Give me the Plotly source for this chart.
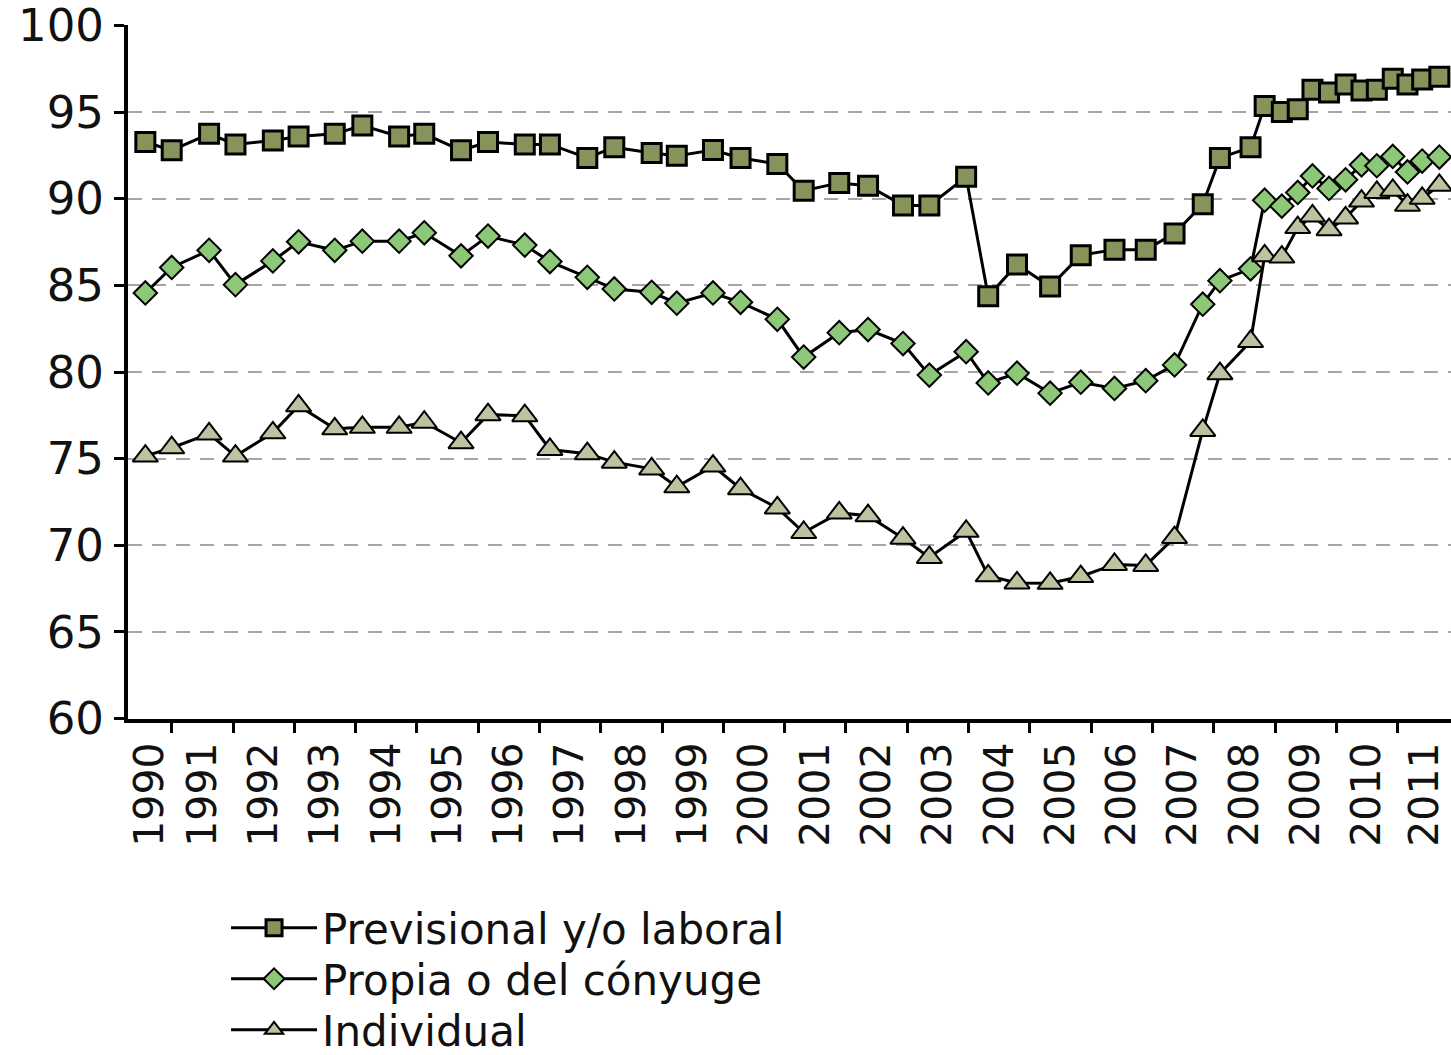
import plotly.graph_objects as go

# Survey periods (decimal years, as placed along the time axis)
periods = [1990.57, 1991.00, 1991.61, 1992.04, 1992.65, 1993.07, 1993.66, 1994.11,
           1994.71, 1995.12, 1995.72, 1996.16, 1996.76, 1997.17, 1997.78, 1998.22,
           1998.83, 1999.24, 1999.83, 2000.28, 2000.88, 2001.31, 2001.89, 2002.36,
           2002.93, 2003.36, 2003.96, 2004.32, 2004.79, 2005.33, 2005.83, 2006.38,
           2006.89, 2007.36, 2007.82, 2008.10, 2008.60, 2008.83, 2009.11, 2009.37,
           2009.61, 2009.88, 2010.15, 2010.41, 2010.66, 2010.92, 2011.16, 2011.40,
           2011.68]

previsional = [93.27, 92.79, 93.74, 93.13, 93.36, 93.59, 93.74, 94.22, 93.59, 93.74,
               92.79, 93.27, 93.13, 93.13, 92.35, 92.97, 92.63, 92.47, 92.81, 92.35,
               92.00, 90.46, 90.91, 90.75, 89.61, 89.61, 91.26, 84.37, 86.20, 84.93,
               86.74, 87.06, 87.06, 87.99, 89.68, 92.35, 92.96, 95.34, 95.00, 95.16,
               96.29, 96.13, 96.58, 96.24, 96.29, 96.92, 96.58, 96.88, 97.04]

propia = [84.56, 86.03, 87.02, 85.04, 86.41, 87.51, 87.02, 87.55, 87.55, 88.03,
          86.70, 87.84, 87.32, 86.37, 85.46, 84.79, 84.60, 83.97, 84.56, 84.02,
          83.04, 80.86, 82.27, 82.45, 81.64, 79.82, 81.17, 79.37, 79.93, 78.78,
          79.41, 79.05, 79.50, 80.41, 83.91, 85.27, 85.95, 89.91, 89.57, 90.36,
          91.31, 90.59, 91.09, 91.95, 91.90, 92.44, 91.54, 92.17, 92.40]

individual = [75.15, 75.63, 76.43, 75.15, 76.49, 78.05, 76.72, 76.81, 76.81, 77.10,
              75.92, 77.54, 77.48, 75.53, 75.29, 74.80, 74.41, 73.38, 74.57, 73.27,
              72.16, 70.74, 71.87, 71.71, 70.41, 69.30, 70.81, 68.24, 67.83, 67.81,
              68.20, 68.90, 68.84, 70.45, 76.63, 79.90, 81.76, 86.70, 86.63, 88.33,
              89.00, 88.21, 88.89, 89.86, 90.36, 90.48, 89.62, 90.02, 90.77]

series_names = ["Previsional y/o laboral", "Propia o del cónyuge", "Individual"]
years = list(range(1990, 2012))
y_ticks = list(range(60, 101, 5))

X_START, X_END = 1990.287, 2011.87
FONT = "DejaVu Sans"

# label positions: centred within each (possibly truncated) year slot
label_pos = [(max(y, X_START) + min(y + 1, X_END)) / 2 for y in years]

fig = go.Figure()
styles = [
    dict(symbol="square", size=19, color="#86935A", line=dict(color="black", width=3)),
    dict(symbol="diamond", size=18, color="#8DC878", line=dict(color="black", width=2)),
    dict(symbol="triangle-up", size=22, color="#BEC2A0", line=dict(color="black", width=2)),
]
legends = ["legend", "legend2", "legend3"]
for name, vals, mk, lg in zip(series_names, [previsional, propia, individual], styles, legends):
    fig.add_trace(go.Scatter(
        x=periods, y=vals, name=name, mode="lines+markers",
        line=dict(color="black", width=3),
        marker=mk, legend=lg,
    ))

fig.update_xaxes(
    range=[X_START, X_END], automargin=False, ticklabeloverflow="allow",
    tickmode="array", tickvals=label_pos, ticktext=[str(y) for y in years],
    ticks="", tickangle=-90, ticklabelstandoff=3,
    tickfont=dict(family=FONT, size=41, color="#111"),
    showgrid=False, zeroline=False,
    showline=True, linecolor="black", linewidth=4,
    minor=dict(tickmode="array", tickvals=years[1:], ticks="outside",
               ticklen=10, tickwidth=3, tickcolor="black", showgrid=False),
)
fig.update_yaxes(
    range=[59.98, 100.02], automargin=False, ticklabeloverflow="allow",
    tickmode="array", tickvals=y_ticks,
    ticks="outside", ticklen=10, tickwidth=3, tickcolor="black",
    ticklabelstandoff=1,
    tickfont=dict(family=FONT, size=45, color="#111"),
    showgrid=True, gridcolor="#A6A6A6", gridwidth=2, griddash="14px,10px",
    zeroline=False, showline=True, linecolor="black", linewidth=4,
)

legend_y = [-0.3012, -0.3746, -0.4481]
common_leg = dict(x=0.0741, xanchor="left", yanchor="middle",
                  font=dict(family=FONT, size=42, color="#111"),
                  itemwidth=86, bgcolor="rgba(0,0,0,0)")
fig.update_layout(
    width=1451, height=1055,
    margin=dict(l=128, r=0, t=25, b=336, autoexpand=False),
    paper_bgcolor="white", plot_bgcolor="white",
    showlegend=True,
    legend=dict(y=legend_y[0], **common_leg),
    legend2=dict(y=legend_y[1], **common_leg),
    legend3=dict(y=legend_y[2], **common_leg),
)

fig.write_html("out.html",
               config={"displayModeBar": False},
               post_script="document.body.style.margin='0';document.body.style.padding='0';")
